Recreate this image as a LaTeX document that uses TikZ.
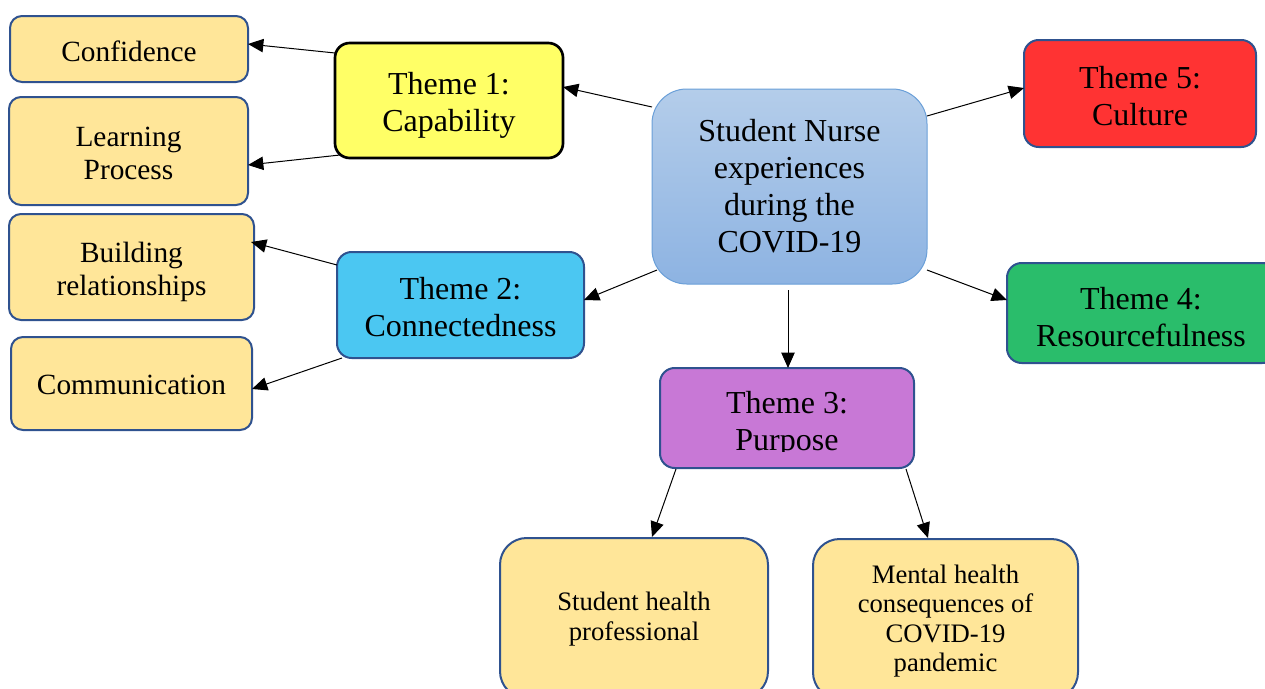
\documentclass[tikz,border=0pt]{standalone}
\usepackage{fontspec}
\setmainfont{Liberation Serif}
\usetikzlibrary{arrows.meta,calc}
\definecolor{leafyellow}{HTML}{FFE699}
\definecolor{boxblue}{HTML}{2F528F}
\definecolor{t1yellow}{HTML}{FFFF66}
\definecolor{t2cyan}{HTML}{4BC7F2}
\definecolor{t3violet}{HTML}{C878D6}
\definecolor{t4green}{HTML}{2ABD6B}
\definecolor{t5red}{HTML}{FF3333}
\definecolor{hubtop}{HTML}{B4CDEA}
\definecolor{hubbot}{HTML}{8DB3E2}
\definecolor{hubline}{HTML}{6A9FD8}

\begin{document}
\begin{tikzpicture}[x=0.75pt,y=-0.75pt,
  sz/.style 2 args={minimum width=#1*0.75pt,minimum height=#2*0.75pt},
  boxbase/.style={rectangle,inner sep=0pt,outer sep=0pt},
  leaf/.style={boxbase,draw=boxblue,line width=1.5pt,fill=leafyellow,rounded corners=9pt},
  theme/.style={boxbase,draw=boxblue,line width=1.5pt,rounded corners=11pt},
  hub/.style={boxbase,draw=hubline,line width=0.75pt,top color=hubtop,bottom color=hubbot,rounded corners=26pt},
  subbox/.style={boxbase,draw=boxblue,line width=1.5pt,fill=leafyellow,rounded corners=20pt},
  txt/.style={align=center,inner sep=0pt},
  bigtxt/.style={txt,font=\fontsize{24}{27.75}\selectfont},
  midtxt/.style={txt,font=\fontsize{22}{24.75}\selectfont},
  smalltxt/.style={txt,font=\fontsize{20}{22}\selectfont},
  link/.style={line width=0.75pt,-{Triangle[length=11.5pt,width=10pt]}}
]
\useasboundingbox (0,0) rectangle (1265,689);
\clip (0,0) rectangle (1265,689);

% sub-theme boxes on the left
\node[leaf,sz={238}{66}] (conf) at (129,49) {};
\node[midtxt] (conf-t) at ($(conf)+(0,2)$) {Confidence};
\node[leaf,sz={239}{108}] (learn) at (128.5,151) {};
\node[midtxt] (learn-t) at ($(learn)+(0,2.5)$) {Learning\\Process};
\node[leaf,sz={245}{106}] (build) at (131.5,267) {};
\node[midtxt] (build-t) at ($(build)+(0,4.5)$) {Building\\relationships};
\node[leaf,sz={241}{93}] (comm) at (131.5,383.5) {};
\node[midtxt] (comm-t) at ($(comm)+(0,1)$) {Communication};

% themes
\node[theme,draw=black,line width=2pt,fill=t1yellow,sz={228}{115}] (t1) at (449,100.5) {};
\node[bigtxt] (t1-t) at ($(t1)+(0,5)$) {Theme 1:\\Capability};
\node[theme,fill=t2cyan,sz={247}{106}] (t2) at (460.5,305) {};
\node[bigtxt] (t2-t) at ($(t2)+(0,2)$) {Theme 2:\\Connectedness};
\node[theme,fill=t5red,sz={232}{107}] (t5) at (1140,93.5) {};
\node[bigtxt] (t5-t) at ($(t5)+(0,2.5)$) {Theme 5:\\Culture};
\node[theme,fill=t4green,sz={270}{100}] (t4) at (1142,313) {};
\node[bigtxt] (t4-t) at ($(t4)+(-1,4)$) {Theme 4:\\Resourcefulness};
\node[theme,fill=t3violet,sz={254}{100}] (t3) at (787,418) {};
\begin{scope}
  \clip (660,368) rectangle (914,451);
  \node[bigtxt] (t3-t) at (787,424) {Theme 3:\\Purpose};
\end{scope}

% central topic
\node[hub,sz={275}{195}] (hub) at (789.5,186.5) {};
\node[bigtxt] (hub-t) at ($(hub)+(0,0)$) {Student Nurse\\experiences\\during the\\COVID-19};

% sub-themes of theme 3
\node[subbox,sz={268}{160}] (shp) at (634,618) {};
\node[smalltxt] (shp-t) at ($(shp)+(0,1)$) {Student health\\professional};
\node[subbox,sz={265}{160}] (mh) at (945.5,619) {};
\begin{scope}
  \clip (813,539) rectangle (1078,677);
  \node[smalltxt] (mh-t) at (945.5,621) {Mental health\\consequences of\\COVID-19\\pandemic};
\end{scope}

% connectors
\draw[link] ($(hub.north west)+(0,18)$) -- ($(t1.north east)+(0,44)$);
\draw[link] ($(t1.north west)+(0,10)$) -- ($(conf.north east)+(0,28)$);
\draw[link] ($(t1.south west)+(5,-3)$) -- ($(learn.north east)+(0,68)$);
\draw[link] ($(hub.south west)+(5,-14)$) -- ($(t2.north east)+(0,48)$);
\draw[link] ($(t2.north west)+(0,13)$) -- ($(build.north east)+(-3,28)$);
\draw[link] ($(t2.south west)+(5,0)$) -- ($(comm.north east)+(0,52)$);
\draw[link] ($(hub.north east)+(0,27)$) -- ($(t5.north west)+(0,48)$);
\draw[link] ($(hub.south east)+(0,-14)$) -- ($(t4.north west)+(0,37)$);
\draw[link] ($(hub.south)+(-1.5,6)$) -- ($(t3.north)+(1,0)$);
\draw[link] ($(t3.south west)+(16,1)$) -- ($(shp.north)+(18,-1)$);
\draw[link] ($(t3.south east)+(-8,1)$) -- ($(mh.north west)+(115,-1)$);
\end{tikzpicture}
\end{document}
